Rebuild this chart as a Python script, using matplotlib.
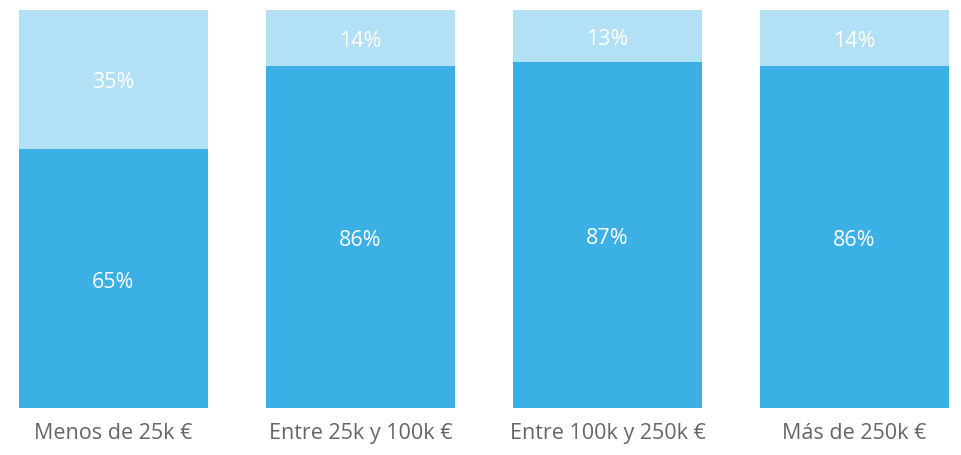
import numpy as np
import matplotlib.pyplot as plt

plt.rcParams['font.family'] = ['Open Sans', 'DejaVu Sans']

categories = ['Menos de 25k €', 'Entre 25k y 100k €', 'Entre 100k y 250k €', 'Más de 250k €']
bottom_vals = [65, 86, 87, 86]
top_vals = [35, 14, 13, 14]

dark = '#3AB0E5'
light = '#B2E0F4'

fig = plt.figure(figsize=(9.62, 4.55), dpi=100)
w = 0.764
ax = fig.add_axes([19 / 962, 47 / 455, 930 / 962, 398 / 455])

x = np.arange(len(categories))
ax.bar(x, bottom_vals, width=w, color=dark, linewidth=0)
ax.bar(x, top_vals, width=w, bottom=bottom_vals, color=light, linewidth=0)

for i in range(len(categories)):
    ax.text(x[i], bottom_vals[i] / 2 - 1, f'{bottom_vals[i]}%', ha='center', va='center',
            color='white', fontsize=15.5)
    ax.text(x[i], bottom_vals[i] + top_vals[i] / 2 - 0.8, f'{top_vals[i]}%', ha='center', va='center',
            color='white', fontsize=15.5)

ax.set_xlim(-w / 2, len(categories) - 1 + w / 2)
ax.set_ylim(0, 100)
ax.set_xticks(x)
ax.set_xticklabels(categories, fontsize=15.5, color='#666666')
ax.tick_params(axis='x', length=0, pad=11)
ax.set_yticks([])
for s in ax.spines.values():
    s.set_visible(False)

fig.savefig('out.png', dpi=100)
